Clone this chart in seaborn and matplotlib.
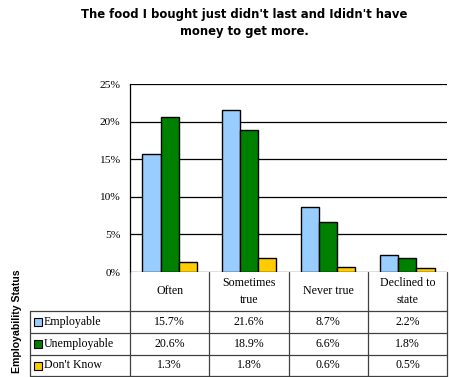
import matplotlib
matplotlib.use("Agg")
import matplotlib.pyplot as plt
import seaborn as sns
import pandas as pd

categories = ["Often", "Sometimes\ntrue", "Never true", "Declined to\nstate"]
series = ["Employable", "Unemployable", "Don't Know"]
employable = [15.7, 21.6, 8.7, 2.2]
unemployable = [20.6, 18.9, 6.6, 1.8]
dont_know = [1.3, 1.8, 0.6, 0.5]
yticks = [0, 5, 10, 15, 20, 25]
colors = ["#99CCFF", "#008000", "#FFCC00"]

values = [employable, unemployable, dont_know]
rows = []
for s, vals in zip(series, values):
    for c, v in zip(categories, vals):
        rows.append({"cat": c, "series": s, "val": v})
df = pd.DataFrame(rows)

sns.set_style("white")
plt.rcParams["font.family"] = ["Liberation Serif", "DejaVu Serif"]
plt.rcParams["text.color"] = "black"
plt.rcParams["ytick.color"] = "black"
plt.rcParams["ytick.labelcolor"] = "black"

W, H = 449, 377
fig = plt.figure(figsize=(W / 100, H / 100), dpi=100)
ax = fig.add_axes([130 / W, 1 - 272 / H, 317 / W, (272 - 84) / H])

sns.barplot(data=df, x="cat", y="val", hue="series", order=categories,
            hue_order=series, palette=colors, width=0.69, edgecolor="black",
            linewidth=1, ax=ax, legend=False, saturation=1)

ax.set_xlim(-0.5, 3.5)
ax.set_ylim(0, 25)
ax.set_yticks(yticks)
ax.set_yticklabels([f"{t}%" for t in yticks], fontsize=8.2)
ax.set_xticks([])
ax.set_xlabel("")
ax.set_ylabel("")
ax.tick_params(axis="y", direction="out", length=4, width=0.8, color="black", pad=3)
for t in yticks:
    ax.axhline(t, color="black", lw=0.9, zorder=0)
for side in ["top", "right", "bottom"]:
    ax.spines[side].set_visible(False)
ax.spines["left"].set_color("black")
ax.spines["left"].set_linewidth(0.9)
ax.set_facecolor("white")

# Title
fig.text(244 / W, 1 - 8 / H,
         "The food I bought just didn't last and Ididn't have\nmoney to get more.",
         ha="center", va="top", fontsize=8.4, fontweight="bold",
         family=["DejaVu Sans"], linespacing=1.45)

# Rotated label
fig.text(17 / W, 1 - 321 / H, "Employability Status", rotation=90,
         ha="center", va="center", fontsize=7.6, fontweight="bold",
         family=["Liberation Sans", "DejaVu Sans"])

# Data table
unit = 317 / 4.0
xl = -0.5 - 100 / unit
tax = fig.add_axes([30 / W, 1 - 377 / H, 417 / W, 105 / H])
tax.set_xlim(xl, 3.5)
tax.set_ylim(105, 0)
tax.axis("off")
lc = "#404040"
lw = 0.9
for x in [-0.5, 0.5, 1.5, 2.5, 3.5]:
    tax.plot([x, x], [0, 104], color=lc, lw=lw, clip_on=False)
tax.plot([xl, xl], [39, 104], color=lc, lw=lw, clip_on=False)
for y in [39, 61, 83, 104]:
    tax.plot([xl, 3.5], [y, y], color=lc, lw=lw, clip_on=False)

for i, c in enumerate(categories):
    tax.text(i, 19.5, c, ha="center", va="center", fontsize=8.6, linespacing=1.55)

row_y = [50, 72, 93.5]
for s, col, vals, y in zip(series, colors, values, row_y):
    tax.plot([xl + 7.5 / unit], [y], marker="s", markersize=5.5, color=col,
             markeredgecolor="black", markeredgewidth=0.8, clip_on=False)
    tax.text(xl + 14 / unit, y, s, ha="left", va="center", fontsize=8.6)
    for i, v in enumerate(vals):
        tax.text(i, y, f"{v:.1f}%", ha="center", va="center", fontsize=8.6)

fig.savefig("out.png", dpi=100, facecolor="white")
